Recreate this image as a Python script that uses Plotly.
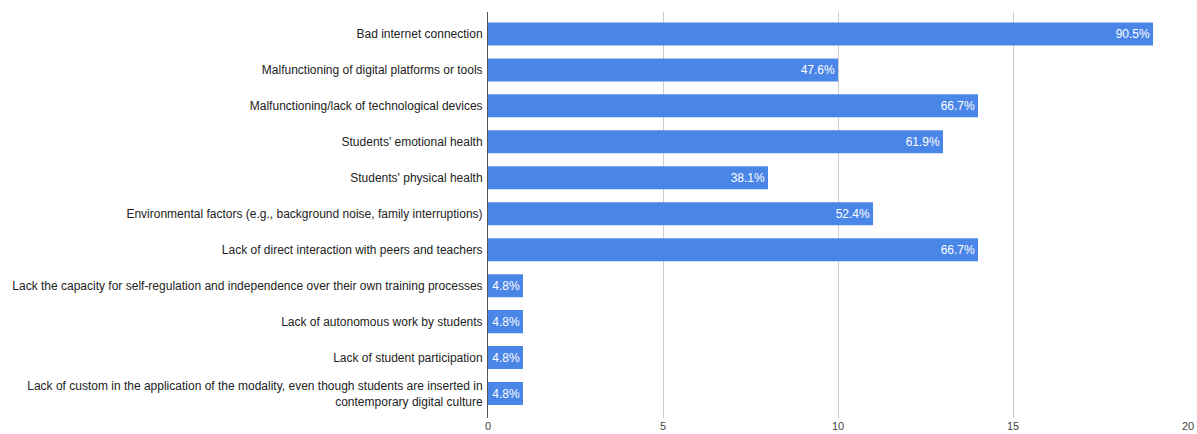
import plotly.graph_objects as go

categories = [
    "Bad internet connection",
    "Malfunctioning of digital platforms or tools",
    "Malfunctioning/lack of technological devices",
    "Students' emotional health",
    "Students' physical health",
    "Environmental factors (e.g., background noise, family interruptions)",
    "Lack of direct interaction with peers and teachers",
    "Lack the capacity for self-regulation and independence over their own training processes",
    "Lack of autonomous work by students",
    "Lack of student participation",
    "Lack of custom in the application of the modality, even though students are inserted in<br>contemporary digital culture",
]
counts = [19, 10, 14, 13, 8, 11, 14, 1, 1, 1, 1]
pct_labels = ["90.5%", "47.6%", "66.7%", "61.9%", "38.1%", "52.4%", "66.7%",
              "4.8%", "4.8%", "4.8%", "4.8%"]
x_ticks = [0, 5, 10, 15, 20]

FONT = "Arial, Liberation Sans, sans-serif"

fig = go.Figure(go.Bar(
    y=categories,
    x=counts,
    orientation="h",
    text=pct_labels,
    textposition="inside",
    insidetextanchor="end",
    textfont=dict(color="white", size=12, family=FONT),
    constraintext="none",
    marker=dict(color="#4a86e8", line=dict(width=0)),
    width=0.64,
    cliponaxis=False,
))

fig.update_layout(
    width=1197, height=434,
    margin=dict(l=488, r=9, t=12, b=16, autoexpand=False),
    paper_bgcolor="white", plot_bgcolor="white",
    font=dict(family=FONT, size=12, color="#222222"),
    showlegend=False,
    xaxis=dict(range=[0, 20], tickvals=x_ticks, showgrid=True, gridcolor="#cccccc",
               gridwidth=1, zeroline=False, showline=False, automargin=False,
               tickfont=dict(size=11, color="#444444"), ticks="",
               ticklabelstandoff=0),
    yaxis=dict(categoryorder="array", categoryarray=categories[::-1],
               autorange=False, range=[-0.68, len(categories) - 1 + 0.61],
               showline=True, linecolor="#555555", linewidth=1, ticks="",
               showgrid=False, automargin=False,
               tickfont=dict(size=12, color="#222222"),
               ticklabelstandoff=2),
)

fig.write_html("out.html")
